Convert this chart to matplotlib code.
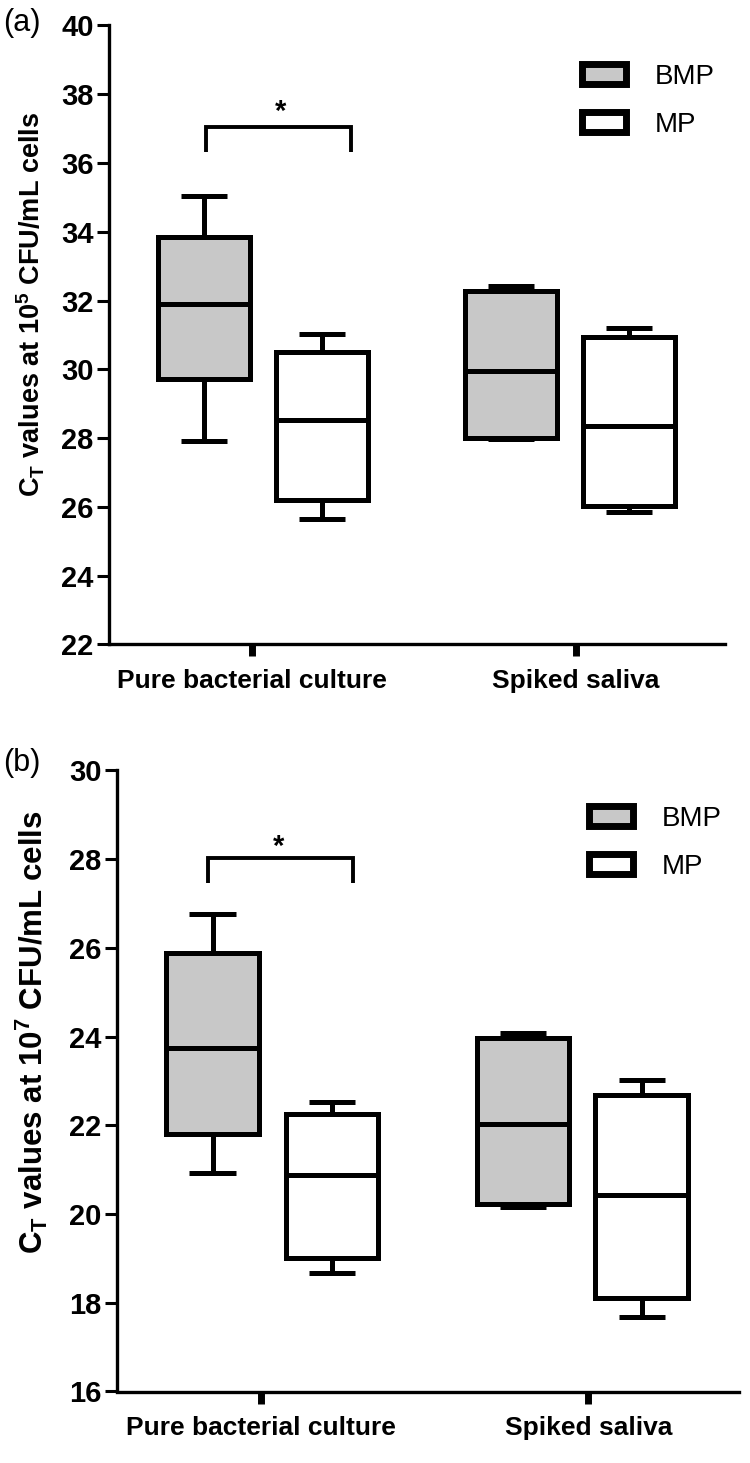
import matplotlib
matplotlib.use('Agg')
import matplotlib.pyplot as plt
from matplotlib.patches import Patch

plt.rcParams['font.family'] = ['Liberation Sans', 'DejaVu Sans']
plt.rcParams['mathtext.default'] = 'regular'

# ---------------- data ----------------
categories = ['Pure bacterial culture', 'Spiked saliva']
series = ['BMP', 'MP']

# five-number summaries per category: [min, Q1, median, Q3, max]
a_bmp = [[27.92, 29.73, 31.91, 33.86, 35.03],
         [27.97, 28.00, 29.94, 32.28, 32.43]]
a_mp = [[25.66, 26.20, 28.54, 30.49, 31.03],
        [25.84, 26.04, 28.35, 30.94, 31.20]]
b_bmp = [[20.93, 21.81, 23.74, 25.88, 26.76],
         [20.17, 20.22, 22.03, 23.97, 24.08]]
b_mp = [[18.67, 19.02, 20.88, 22.26, 22.52],
        [17.68, 18.11, 20.43, 22.69, 23.02]]

a_yticks = [22, 24, 26, 28, 30, 32, 34, 36, 38, 40]
b_yticks = [16, 18, 20, 22, 24, 26, 28, 30]

a_ylabel = r'C$_\mathregular{T}$ values at 10$^\mathregular{5}$ CFU/mL cells'
b_ylabel = r'C$_\mathregular{T}$ values at 10$^\mathregular{7}$ CFU/mL cells'

# significance bracket: (x_left, x_right, y_top, y_leg_bottom)
a_sig = (-0.142, 0.305, 37.04, 36.33)
b_sig = (-0.163, 0.282, 28.02, 27.47)

# ---------------- style ----------------
W, H = 750, 1463
GREY = '#c8c8c8'
LW = 3.6
bmp_off = [-0.148, -0.200]
mp_off = [0.217, 0.163]
BOXW = 0.283

fig = plt.figure(figsize=(W / 100, H / 100), dpi=100)


def stats_of(rows):
    return [dict(whislo=r[0], q1=r[1], med=r[2], q3=r[3], whishi=r[4], fliers=[])
            for r in rows]


def panel(rect_px, bmp, mp, yticks, ylabel, ylabel_px, ylabel_fs, sig, star_y,
          star_x, letter, letter_px, legend_px):
    l, r, t, b = rect_px
    ax = fig.add_axes([l / W, 1 - b / H, (r - l) / W, (b - t) / H])
    for rows, offs, fc in ((bmp, bmp_off, GREY), (mp, mp_off, 'white')):
        pos = [i + o for i, o in enumerate(offs)]
        ax.bxp(stats_of(rows), positions=pos, widths=BOXW, patch_artist=True,
               showfliers=False, manage_ticks=False,
               boxprops=dict(facecolor=fc, edgecolor='black', linewidth=LW,
                             joinstyle='miter'),
               medianprops=dict(color='black', linewidth=LW, solid_capstyle='butt'),
               whiskerprops=dict(color='black', linewidth=LW, solid_capstyle='butt'),
               capprops=dict(color='black', linewidth=LW, solid_capstyle='butt'))
    ax.set_xlim(-0.44, 1.46)
    ax.set_ylim(yticks[0], yticks[-1])
    ax.set_yticks(yticks)
    ax.set_yticklabels([str(v) for v in yticks], fontsize=21, fontweight='bold')
    ax.set_xticks(range(len(categories)))
    ax.set_xticklabels(categories, fontsize=19, fontweight='bold')
    for s in ('top', 'right'):
        ax.spines[s].set_visible(False)
    for s in ('left', 'bottom'):
        ax.spines[s].set_linewidth(2.4)
        ax.spines[s].set_capstyle('projecting')
    ax.tick_params(axis='y', length=8.5, width=2.2, pad=2.5)
    ax.tick_params(axis='x', length=8.5, width=5, pad=9)
    # significance bracket
    x0, x1, yt, yb = sig
    ax.plot([x0, x0, x1, x1], [yb, yt, yt, yb], color='black', lw=2.8,
            solid_joinstyle='miter', solid_capstyle='butt')
    ax.text(star_x, star_y, '*', ha='center', va='center', fontsize=21,
            fontweight='bold')
    # y label
    fig.text(ylabel_px[0] / W, 1 - ylabel_px[1] / H, ylabel, rotation=90,
             ha='center', va='center', fontsize=ylabel_fs, fontweight='bold')
    fig.text(letter_px[0] / W, 1 - letter_px[1] / H, letter, ha='left',
             va='center', fontsize=22)
    handles = [Patch(facecolor=GREY, edgecolor='black', linewidth=5, label=series[0]),
               Patch(facecolor='white', edgecolor='black', linewidth=5, label=series[1])]
    ax.legend(handles=handles, loc='upper left',
              bbox_to_anchor=(legend_px[0] / W, 1 - legend_px[1] / H),
              bbox_transform=fig.transFigure, frameon=False, fontsize=20,
              handlelength=1.6, handleheight=0.75, handletextpad=1.03,
              labelspacing=0.78, borderpad=0, borderaxespad=0)
    return ax


panel((109, 725, 25.4, 644.5), a_bmp, a_mp, a_yticks, a_ylabel, (31, 304), 19.5,
      a_sig, 37.49, 0.089, '(a)', (3, 23), (582, 64))
panel((117, 739, 770.4, 1391.5), b_bmp, b_mp, b_yticks, b_ylabel, (32, 1032), 22.5,
      b_sig, 28.28, 0.052, '(b)', (3, 763), (589, 806))

fig.savefig('out.png', dpi=100)
